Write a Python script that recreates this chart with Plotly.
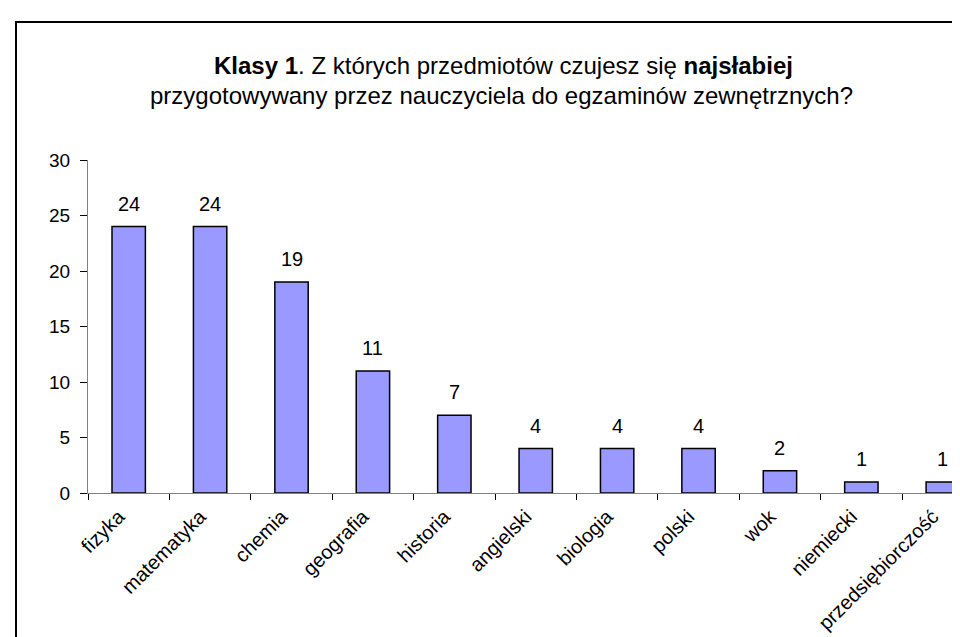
import plotly.graph_objects as go

categories = ["fizyka", "matematyka", "chemia", "geografia", "historia", "angielski",
              "biologia", "polski", "wok", "niemiecki", "przedsiębiorczość"]
values = [24, 24, 19, 11, 7, 4, 4, 4, 2, 1, 1]
y_ticks = [0, 5, 10, 15, 20, 25, 30]

FONT = "Liberation Sans, Arial, sans-serif"
W, H = 960, 637
ML, MR, MT, MB = 80, 0, 152, 152
PW = W - ML - MR
PH = H - MT - MB

def px_x(x):
    return (x - ML) / PW

def px_y(y):
    return (H - MB - y) / PH

fig = go.Figure()
fig.add_trace(go.Bar(
    x=categories, y=values,
    marker=dict(color="#9999FF", line=dict(color="black", width=1.5)),
    width=0.41,
    hoverinfo="x+y",
))

label_annotations = [
    dict(x=c, y=v, xref="x", yref="y", text=str(v), showarrow=False,
         xanchor="center", yanchor="middle", yshift=23,
         font=dict(family=FONT, size=20, color="black"))
    for c, v in zip(categories, values)
]

fig.update_layout(
    width=W, height=H,
    margin=dict(l=ML, r=MR, t=MT, b=MB),
    paper_bgcolor="white", plot_bgcolor="white",
    showlegend=False,
    font=dict(family=FONT, color="black"),
    xaxis=dict(
        type="category", range=[-0.5, 10.31],
        showline=True, linecolor="#808080", linewidth=1,
        ticks="outside", tickson="boundaries", ticklen=6, tickcolor="#000000",
        tickangle=-45, tickfont=dict(family=FONT, size=20, color="black"),
        ticklabelstandoff=3, ticklabelshift=-10,
        showgrid=False, zeroline=False,
    ),
    yaxis=dict(
        range=[0, 30], tickvals=y_ticks,
        showline=True, linecolor="#808080", linewidth=1,
        ticks="outside", ticklen=7, tickcolor="#000000",
        ticklabelstandoff=6,
        tickfont=dict(family=FONT, size=19, color="black"),
        showgrid=False, zeroline=False,
    ),
    shapes=[dict(type="rect", xref="paper", yref="paper",
                 x0=px_x(8), x1=px_x(W + 40), y0=px_y(H + 40), y1=px_y(14),
                 line=dict(color="black", width=2), fillcolor="rgba(0,0,0,0)")],
    annotations=label_annotations + [
        dict(text="<b>Klasy 1</b>. Z których przedmiotów czujesz się <b>najsłabiej</b>",
             xref="paper", yref="paper", x=px_x(495), y=px_y(58),
             xanchor="center", yanchor="middle", showarrow=False,
             font=dict(family=FONT, size=24, color="black")),
        dict(text="przygotowywany przez nauczyciela do egzaminów zewnętrznych?",
             xref="paper", yref="paper", x=px_x(493), y=px_y(87),
             xanchor="center", yanchor="middle", showarrow=False,
             font=dict(family=FONT, size=24, color="black")),
    ],
)

fig.write_html("out.html")
